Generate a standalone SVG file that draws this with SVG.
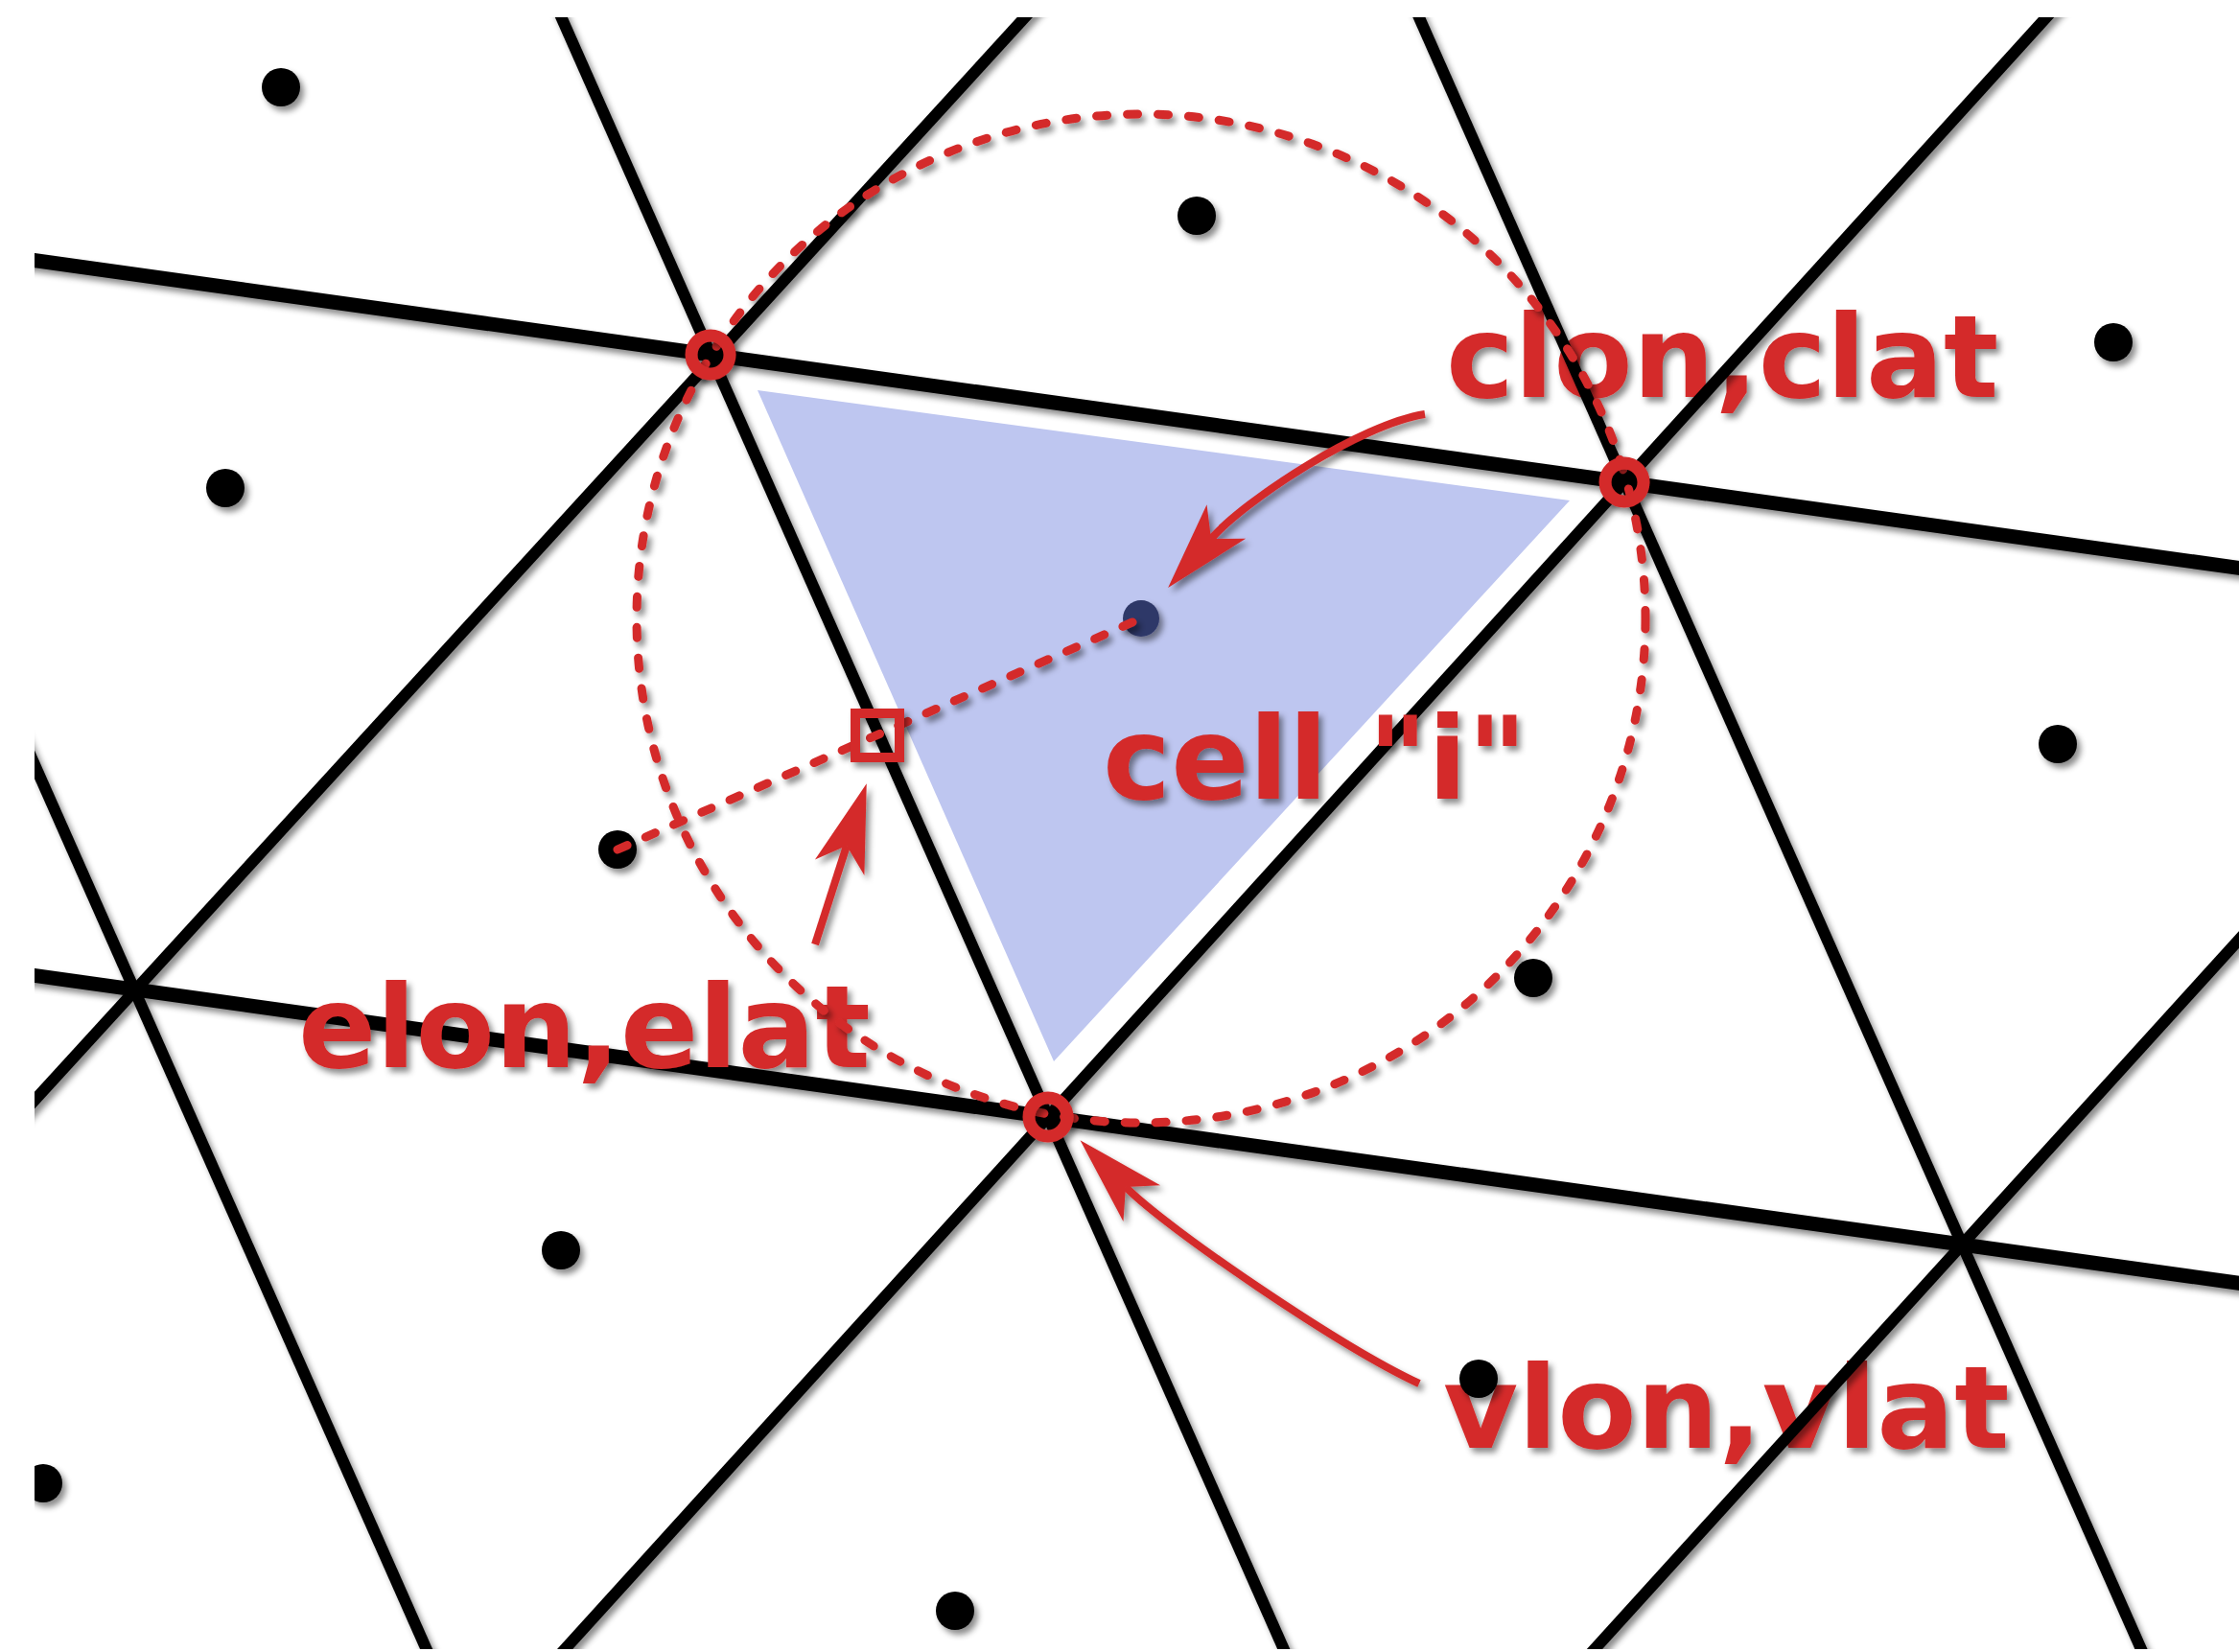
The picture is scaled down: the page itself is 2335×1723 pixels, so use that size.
<svg xmlns="http://www.w3.org/2000/svg" width="2335" height="1723" viewBox="0 0 2335 1723">
<defs>
<style>
.grid line{stroke:#000;stroke-width:12;fill:none}
.grid line.h{stroke-width:15}
.dot{fill:#000}
.lbl{font-family:"DejaVu Sans","Liberation Sans",sans-serif;font-weight:bold;font-size:120px;fill:#d42b2b}
.dash{fill:none;stroke:#d42b2b;stroke-width:9;stroke-linecap:round;stroke-dasharray:11 21}
.ring{fill:none;stroke:#d42b2b;stroke-width:13}
.arrow{fill:none;stroke:#d42b2b;stroke-width:8;marker-end:url(#ah)}
</style>
<clipPath id="frame"><rect x="36" y="18" width="2299" height="1702"/></clipPath>
<filter id="sh" filterUnits="userSpaceOnUse" x="0" y="0" width="2335" height="1723">
<feDropShadow dx="4" dy="5" stdDeviation="3" flood-color="#000" flood-opacity="0.45"/>
</filter>
<marker id="ah" markerUnits="userSpaceOnUse" markerWidth="120" markerHeight="80" refX="0" refY="0" orient="auto" overflow="visible">
<path d="M68,0 L-24,-27 L0,0 L-24,27 Z" fill="#d42b2b"/>
</marker>
</defs>
<rect width="2335" height="1723" fill="#fff"/>
<g clip-path="url(#frame)">
<g id="cell-i-fill">
<polygon points="790,407 1637,522 1099,1107" fill="#bec6f0"/>
</g>
<g id="label-clon" filter="url(#sh)">
<text class="lbl" x="1508" y="414">clon,clat</text>
</g>
<g id="label-vlon" filter="url(#sh)">
<text class="lbl" x="1505" y="1510">vlon,vlat</text>
</g>
<g id="grid" class="grid" filter="url(#sh)">
<line class="h" x1="-212" y1="237" x2="2647" y2="636"/>
<line class="h" x1="-813" y1="899" x2="2999" y2="1431"/>
<line x1="565" y1="-28" x2="1445" y2="1960"/>
<line x1="1448" y1="-54" x2="2398" y2="2093"/>
<line x1="-318" y1="-2" x2="492" y2="1827"/>
<line x1="1110" y1="-27" x2="-161" y2="1363"/>
<line x1="2175" y1="-27" x2="492" y2="1827"/>
<line x1="2948" y1="305" x2="1445" y2="1960"/>
</g>
<g id="centers" filter="url(#sh)">
<circle class="dot" cx="293" cy="91" r="20"/>
<circle class="dot" cx="1248" cy="225" r="20"/>
<circle class="dot" cx="2204" cy="357" r="20"/>
<circle class="dot" cx="235" cy="509" r="20"/>
<circle class="dot" cx="2146" cy="776" r="20"/>
<circle class="dot" cx="644" cy="886" r="20"/>
<circle class="dot" cx="1599" cy="1020" r="20"/>
<circle class="dot" cx="585" cy="1304" r="20"/>
<circle class="dot" cx="1542" cy="1438" r="20"/>
<circle class="dot" cx="45" cy="1547" r="20"/>
<circle class="dot" cx="996" cy="1680" r="20"/>
<circle cx="1190" cy="645" r="19" fill="#2f3868"/>
</g>
<g id="label-elon" filter="url(#sh)">
<text class="lbl" x="311" y="1113">elon,elat</text>
</g>
<g id="label-cell" filter="url(#sh)">
<text class="lbl" x="1150" y="833">cell "i"</text>
</g>
<g id="circumcircle" filter="url(#sh)">
<circle class="dash" cx="1190" cy="645" r="526"/>
<path class="dash" d="M644,886 L1190,645"/>
</g>
<g id="vertices" filter="url(#sh)">
<circle class="ring" cx="741" cy="370" r="20"/>
<circle class="ring" cx="1694" cy="503" r="20"/>
<circle class="ring" cx="1093" cy="1165" r="20"/>
<rect x="892" y="744" width="46" height="46" fill="none" stroke="#d42b2b" stroke-width="10"/>
</g>
<g id="connectors" filter="url(#sh)">
<path class="arrow" d="M1486,432 C1420,442 1299,521 1263,562"/>
<path class="arrow" d="M850,985 L883,882"/>
<path class="arrow" d="M1480,1443 C1398,1405 1216,1281 1174,1238"/>
</g>
</g>
</svg>
